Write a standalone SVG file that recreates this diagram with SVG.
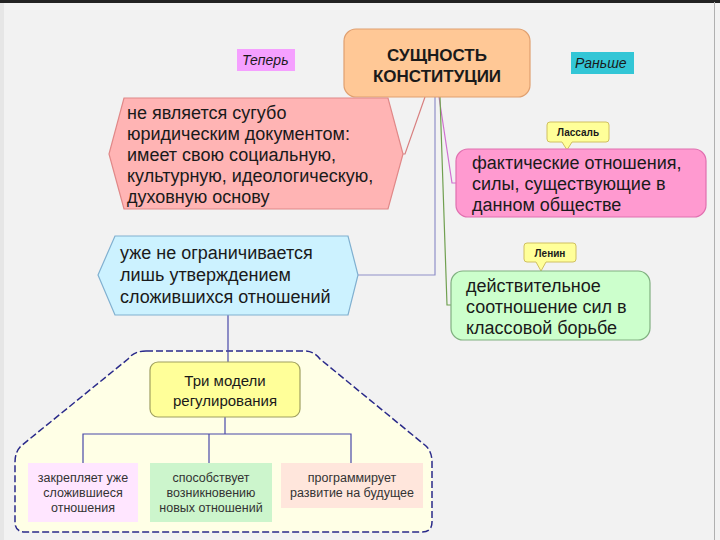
<svg xmlns="http://www.w3.org/2000/svg" width="720" height="540" viewBox="0 0 720 540">
<style>
text{font-family:"Liberation Sans",Arial,sans-serif;fill:#1a1a1a}
.big{font-size:18px}
.small{font-size:12.5px;text-anchor:middle;fill:#333}
.tag{font-size:14px;font-style:italic}
.call{font-size:10px;font-weight:bold;text-anchor:middle}
.title{font-size:17px;font-weight:bold;text-anchor:middle}
.conn{fill:none;stroke-width:1.2}
</style>
<rect x="0" y="0" width="720" height="540" fill="#f2f2f2"/>
<rect x="0" y="0" width="4" height="540" fill="#e6e6e6"/>
<line x1="0" y1="1.5" x2="720" y2="1.5" stroke="#222" stroke-width="3"/>
<line x1="714.5" y1="2" x2="714.5" y2="540" stroke="#b0b0b0" stroke-width="1"/>

<g id="frame">
<path d="M146,351 L304,351 Q314,351 320,359 L426,446 Q432,452 432,462 L432,522 Q432,532 422,532 L25,532 Q15,532 15,522 L15,462 Q15,452 21,446 L128,359 Q134,351 146,351 Z" fill="#ffffe6" stroke="#2a2a8a" stroke-width="1.5" stroke-dasharray="7,3"/>
</g>

<g id="connectors">
<polyline class="conn" points="425,97 405,154 402,154" stroke="#d88080"/>
<polyline class="conn" points="439,97 452,183 456,183" stroke="#d070d0"/>
<polyline class="conn" points="440,97 447,305 451,305" stroke="#70a050"/>
<polyline class="conn" points="435,97 435,275 358,275" stroke="#9090c8"/>
<line class="conn" x1="228" y1="315" x2="228" y2="362" stroke="#4848a8"/>
<line class="conn" x1="225" y1="417" x2="225" y2="434" stroke="#4848a8"/>
<polyline class="conn" points="83,463 83,434 351,434 351,463" stroke="#4848a8"/>
<line class="conn" x1="209" y1="434" x2="209" y2="463" stroke="#4848a8"/>
</g>

<g id="tag-teper">
<rect x="237" y="49" width="58" height="22" fill="#f5a0ff"/>
<text class="tag" x="242" y="65">Теперь</text>
</g>
<g id="tag-ranshe">
<rect x="571" y="52" width="63" height="22" fill="#33c6d6"/>
<text class="tag" x="575" y="68">Раньше</text>
</g>

<g id="node-main">
<rect x="344" y="29" width="186" height="68" rx="12" fill="#ffc896" stroke="#e0a070" stroke-width="1.2"/>
<text class="title" x="437" y="61">СУЩНОСТЬ</text>
<text class="title" x="437" y="82">КОНСТИТУЦИИ</text>
</g>

<g id="node-pink-hex">
<polygon points="124,98 388,98 403,154 388,209 124,209 109,154" fill="#ffb4b4" stroke="#e08888" stroke-width="1.2"/>
<text class="big" x="127" y="119">не является сугубо</text>
<text class="big" x="127" y="140">юридическим документом:</text>
<text class="big" x="127" y="161">имеет свою социальную,</text>
<text class="big" x="127" y="182">культурную, идеологическую,</text>
<text class="big" x="127" y="203">духовную основу</text>
</g>

<g id="callout-lassal">
<path d="M550,122 H606 Q609,122 609,125 V139 Q609,142 606,142 H572 L567,150 L562,142 H550 Q547,142 547,139 V125 Q547,122 550,122 Z" fill="#ffff99" stroke="#d0c060" stroke-width="1"/>
<text class="call" x="578" y="136">Лассаль</text>
</g>

<g id="node-lassal">
<rect x="456" y="149" width="250" height="68" rx="12" fill="#ff9ad0" stroke="#e070b0" stroke-width="1.2"/>
<text class="big" x="472" y="169">фактические отношения,</text>
<text class="big" x="472" y="190">силы, существующие в</text>
<text class="big" x="472" y="211">данном обществе</text>
</g>

<g id="callout-lenin">
<path d="M527,243 H573 Q576,243 576,246 V259 Q576,262 573,262 H546 L541,271 L536,262 H527 Q524,262 524,259 V246 Q524,243 527,243 Z" fill="#ffff99" stroke="#d0c060" stroke-width="1"/>
<text class="call" x="550" y="257">Ленин</text>
</g>

<g id="node-lenin">
<rect x="451" y="271" width="199" height="69" rx="12" fill="#ccffcc" stroke="#80b080" stroke-width="1.2"/>
<text class="big" x="466" y="292">действительное</text>
<text class="big" x="466" y="313">соотношение сил в</text>
<text class="big" x="466" y="334">классовой борьбе</text>
</g>

<g id="node-cyan-hex">
<polygon points="115,236 348,236 358,275 348,315 115,315 98,275" fill="#ccf2ff" stroke="#80b0d0" stroke-width="1.2"/>
<text class="big" x="120" y="259">уже не ограничивается</text>
<text class="big" x="120" y="281">лишь утверждением</text>
<text class="big" x="120" y="303">сложившихся отношений</text>
</g>

<g id="node-models">
<rect x="150" y="362" width="150" height="55" rx="8" fill="#ffff99" stroke="#a0a060" stroke-width="1.2"/>
<text x="225" y="386" style="font-size:15px;text-anchor:middle">Три модели</text>
<text x="225" y="406" style="font-size:15px;text-anchor:middle">регулирования</text>
</g>

<g id="node-m1">
<rect x="28" y="463" width="110" height="59" fill="#ffe6ff"/>
<text class="small" x="83" y="482">закрепляет уже</text>
<text class="small" x="83" y="497">сложившиеся</text>
<text class="small" x="83" y="512">отношения</text>
</g>
<g id="node-m2">
<rect x="150" y="463" width="122" height="59" fill="#ccf5cc"/>
<text class="small" x="211" y="482">способствует</text>
<text class="small" x="211" y="497">возникновению</text>
<text class="small" x="211" y="512">новых отношений</text>
</g>
<g id="node-m3">
<rect x="281" y="463" width="142" height="45" fill="#ffe6dc"/>
<text class="small" x="352" y="482">программирует</text>
<text class="small" x="352" y="497">развитие на будущее</text>
</g>
</svg>
